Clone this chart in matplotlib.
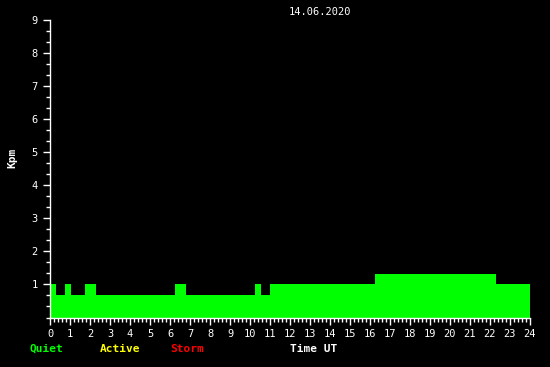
import matplotlib
matplotlib.use("Agg")
import matplotlib.pyplot as plt
import numpy as np
from matplotlib.ticker import MultipleLocator

# 15-minute Kpm values (96 bins over 24 h)
kpm_values = (
    [1.0, 0.67, 0.67, 1.0, 0.67, 0.67, 0.67, 1.0, 1.0]
    + [0.67] * 16
    + [1.0, 1.0]
    + [0.67] * 14
    + [1.0, 0.67, 0.67]
    + [1.0] * 21
    + [1.33] * 24
    + [1.0] * 7
)
bin_hours = 0.25
date_label = "14.06.2020"
x_ticks = list(range(0, 25))
y_ticks = list(range(1, 10))
legend_items = [("Quiet", "#00ff00"), ("Active", "#ffff00"), ("Storm", "#ff0000")]

W, H = 550, 367
fig = plt.figure(figsize=(W / 100, H / 100), dpi=100, facecolor="black")
ax = fig.add_axes([50 / W, 1 - 317.5 / H, 480 / W, 297.5 / H], facecolor="black")

starts = np.arange(len(kpm_values)) * bin_hours
ax.bar(starts, kpm_values, width=bin_hours + 0.05, align="edge", color="#00ff00",
       linewidth=0, zorder=2)

ax.set_xlim(0, 24)
ax.set_ylim(0, 9)
for s in ["top", "right"]:
    ax.spines[s].set_visible(False)
for s in ["left", "bottom"]:
    ax.spines[s].set_color("white")
    ax.spines[s].set_linewidth(1)

mono = "DejaVu Sans Mono"
ax.set_xticks(x_ticks)
ax.set_xticklabels([str(t) for t in x_ticks], fontfamily=mono, fontsize=7.5, color="white")
ax.set_yticks(y_ticks)
ax.set_yticklabels([str(t) for t in y_ticks], fontfamily=mono, fontsize=7.5, color="white")
ax.xaxis.set_minor_locator(MultipleLocator(0.2))
ax.yaxis.set_minor_locator(MultipleLocator(1 / 3))
ax.tick_params(axis="both", which="major", color="white", length=5, width=1)
ax.tick_params(axis="both", which="minor", color="white", length=3, width=1)
ax.tick_params(axis="x", which="major", pad=3)
ax.tick_params(axis="y", which="major", pad=4)

fig.text(320 / W, 1 - 12 / H, date_label, ha="center", va="center",
         fontfamily=mono, fontsize=7.5, color="white")
fig.text(12 / W, 1 - 158 / H, "Kpm", rotation=90, ha="center", va="center",
         fontfamily=mono, fontsize=8, fontweight="bold", color="white")

legend_x = [30, 100, 170]
for (lab, col), x in zip(legend_items, legend_x):
    fig.text(x / W, 1 - 349 / H, lab, ha="left", va="center",
             fontfamily=mono, fontsize=8, fontweight="bold", color=col)
fig.text(290 / W, 1 - 349 / H, "Time UT", ha="left", va="center",
         fontfamily=mono, fontsize=8, fontweight="bold", color="white")

fig.savefig("out.png", dpi=100, facecolor="black")
